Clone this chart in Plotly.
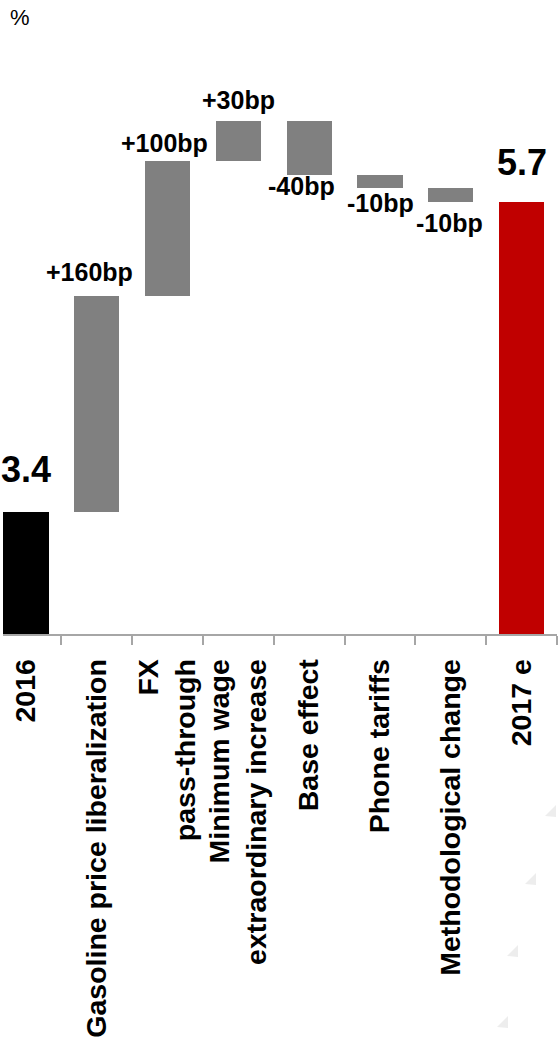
import plotly.graph_objects as go

# Inflation bridge 2016 -> 2017e (percent, contributions in percentage points)
categories = [
    "2016",
    "Gasoline price liberalization",
    "FX<br>pass-through",
    "Minimum wage<br>extraordinary increase",
    "Base effect",
    "Phone tariffs",
    "Methodological change",
    "2017 e",
]
kinds = ["total", "delta", "delta", "delta", "delta", "delta", "delta", "total"]
values = [3.4, 1.6, 1.0, 0.3, -0.4, -0.1, -0.1, 5.7]
value_labels = ["3.4", "+160bp", "+100bp", "+30bp", "-40bp", "-10bp", "-10bp", "5.7"]

# styling
bar_colors = ["#000000", "#808080", "#808080", "#808080", "#808080", "#808080", "#808080", "#c00000"]
label_dx = [0, -7, -3, 0, -8, 0, -1, 0]      # small horizontal nudges (px)
label_gap = [20, 8, 2, 5, -5, -1, 5, 17]      # extra gap between bar end and label (px)
label_size = [36, 25, 25, 25, 25, 25, 25, 36]

FONT = "Arial, 'Liberation Sans', sans-serif"

# page geometry (px)
W, H = 558, 1045
M_L, M_R, M_T, M_B = 3, 1, 40, 411
PLOT_W, PLOT_H = W - M_L - M_R, H - M_T - M_B

# running bases for the floating bars
bases, heights, ends = [], [], []
running = 0.0
for k, v in zip(kinds, values):
    if k == "total":
        bases.append(0.0)
        heights.append(v)
        running = v
    else:
        bases.append(running)
        heights.append(v)
        running = round(running + v, 6)
    ends.append(running)

positions = list(range(len(categories)))
tick_text = [f"<b>{c.replace('<br>', '</b><br><b>')}</b>" for c in categories]

fig = go.Figure(
    go.Bar(
        x=positions,
        y=heights,
        base=bases,
        marker=dict(color=bar_colors, line=dict(width=0)),
        width=0.64,
        hoverinfo="skip",
    )
)

annotations = []
for i, (v, lab) in enumerate(zip(values, value_labels)):
    up = v >= 0
    annotations.append(
        dict(
            x=positions[i],
            y=ends[i],
            xref="x",
            yref="y",
            text=f"<b>{lab}</b>",
            showarrow=False,
            xanchor="center",
            yanchor="bottom" if up else "top",
            xshift=label_dx[i],
            yshift=label_gap[i] if up else -label_gap[i],
            font=dict(family=FONT, size=label_size[i], color="#000000"),
        )
    )

# unit label in the top-left corner
annotations.append(
    dict(
        x=0.03, y=1.038, xref="paper", yref="paper",
        text="%", showarrow=False, xanchor="center", yanchor="middle",
        font=dict(family=FONT, size=22, color="#000000"),
    )
)


# faint background watermark triangles in the lower-right corner
def px_to_paper(px, py):
    return (px - M_L) / PLOT_W, (H - M_B - py) / PLOT_H


watermark = [(551, 812), (531, 880), (513, 952), (503, 1023)]
shapes = []
for cx, cy in watermark:
    pts = [px_to_paper(cx - 6, cy + 4), px_to_paper(cx + 5, cy - 7), px_to_paper(cx + 5, cy + 5)]
    path = "M {} {} L {} {} L {} {} Z".format(*[c for p in pts for c in p])
    shapes.append(
        dict(type="path", path=path, xref="paper", yref="paper",
             fillcolor="#ededed", line=dict(width=0), layer="below")
    )

fig.update_layout(
    width=W,
    height=H,
    margin=dict(l=M_L, r=M_R, t=M_T, b=M_B, pad=0),
    paper_bgcolor="#ffffff",
    plot_bgcolor="#ffffff",
    showlegend=False,
    bargap=0,
    annotations=annotations,
    shapes=shapes,
    font=dict(family=FONT, color="#000000"),
)
# boundary ticks between categories, labels centred under each bar
fig.update_xaxes(
    range=[-0.325, 7.5],
    showgrid=False,
    zeroline=False,
    showline=True,
    linecolor="#a6a6a6",
    linewidth=1.5,
    tickmode="array",
    tickvals=positions,
    ticktext=tick_text,
    ticks="",
    tickangle=-90,
    ticklabelstandoff=12,
    tickfont=dict(family=FONT, size=28.5, color="#000000"),
    minor=dict(
        tickmode="array",
        tickvals=[p + 0.5 for p in positions],
        ticks="outside",
        ticklen=9,
        tickwidth=1.5,
        tickcolor="#a6a6a6",
        showgrid=False,
    ),
    fixedrange=True,
)
fig.update_yaxes(
    visible=False,
    range=[2.5, 6.897],
    showgrid=False,
    zeroline=False,
    fixedrange=True,
)

fig.write_html("out.html", config={"displayModeBar": False})
